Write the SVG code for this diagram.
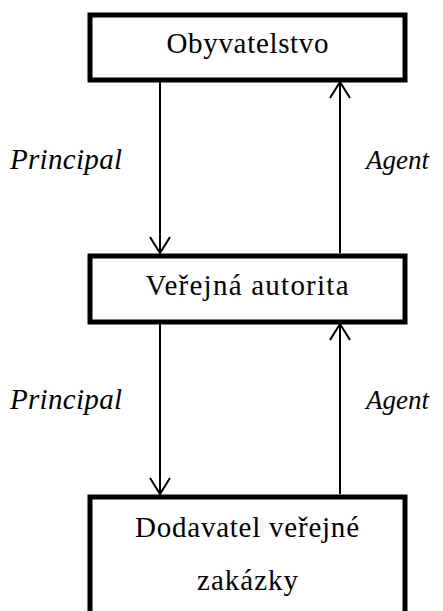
<svg xmlns="http://www.w3.org/2000/svg" width="443" height="611" viewBox="0 0 443 611">
  <defs>
    <style>
      .box { fill: #ffffff; stroke: #000000; stroke-width: 5; }
      .name { font-family: "Liberation Serif", "DejaVu Serif", serif; font-size: 29px; fill: #000000; text-anchor: middle; }
      .role { font-family: "Liberation Serif", "DejaVu Serif", serif; font-size: 29px; font-style: italic; fill: #000000; }
      .role.short { font-size: 27px; }
      .link { stroke: #000000; stroke-width: 2; fill: none; }
      .head { stroke: #000000; stroke-width: 2; fill: none; stroke-linejoin: miter; }
    </style>
    <!-- open V arrowhead, tip at the end of the line -->
    <marker id="open-arrow" viewBox="0 0 18 22" refX="17" refY="11" markerWidth="18" markerHeight="22" markerUnits="userSpaceOnUse" orient="auto">
      <path d="M1,1 L17,11 L1,21" class="head"/>
    </marker>
  </defs>

  <rect width="443" height="611" fill="#ffffff"/>

  <!-- relationships between the three parties -->
  <g id="connectors">
    <line class="link" x1="160" y1="82" x2="160" y2="253" marker-end="url(#open-arrow)"/>
    <line class="link" x1="340" y1="253" x2="340" y2="82" marker-end="url(#open-arrow)"/>
    <line class="link" x1="160" y1="324" x2="160" y2="494" marker-end="url(#open-arrow)"/>
    <line class="link" x1="340" y1="494" x2="340" y2="324" marker-end="url(#open-arrow)"/>
  </g>

  <g id="obyvatelstvo">
    <rect class="box" x="90" y="15" width="315" height="65"/>
    <text class="name" x="247.5" y="53" textLength="162">Obyvatelstvo</text>
  </g>

  <g id="verejna-autorita">
    <rect class="box" x="90" y="256" width="315" height="66"/>
    <text class="name" x="247" y="295" textLength="203">Veřejná autorita</text>
  </g>

  <g id="dodavatel">
    <rect class="box" x="90" y="497" width="315" height="130"/>
    <text class="name" x="247" y="537" textLength="224">Dodavatel veřejné</text>
    <text class="name" x="247.5" y="590" textLength="101">zakázky</text>
  </g>

  <g id="labels">
    <text class="role" x="10" y="169" textLength="112">Principal</text>
    <text class="role short" x="366" y="169">Agent</text>
    <text class="role" x="10" y="409" textLength="112">Principal</text>
    <text class="role short" x="366" y="409">Agent</text>
  </g>
</svg>
